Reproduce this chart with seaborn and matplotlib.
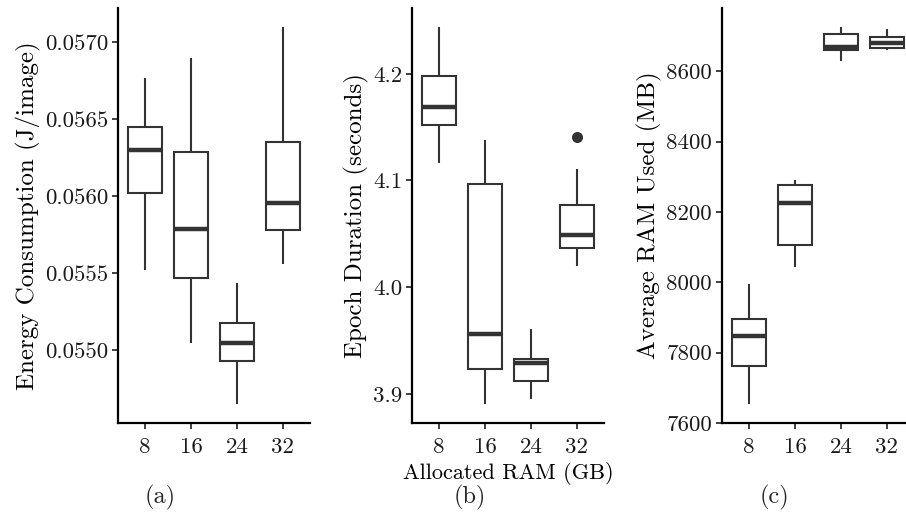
import numpy as np
import pandas as pd
import matplotlib.pyplot as plt
import seaborn as sns
from matplotlib.ticker import MultipleLocator, FormatStrFormatter

# === 1. Values ===
ram_gb = ["8", "16", "24", "32"]

# five-number summaries per RAM size: [lower whisker, Q1, median, Q3, upper whisker]
energy_summary = [
    [0.05552, 0.05602, 0.05630, 0.05645, 0.05677],
    [0.05505, 0.05547, 0.05579, 0.05629, 0.05690],
    [0.05465, 0.05493, 0.05505, 0.05518, 0.05544],
    [0.05556, 0.05578, 0.05596, 0.05635, 0.05710],
]
epoch_summary = [
    [4.116, 4.152, 4.169, 4.198, 4.244],
    [3.890, 3.923, 3.956, 4.097, 4.138],
    [3.895, 3.912, 3.929, 3.933, 3.961],
    [4.020, 4.037, 4.049, 4.077, 4.111],
]
ram_used_summary = [
    [7653, 7763, 7848, 7895, 7994],
    [8044, 8105, 8226, 8278, 8290],
    [8628, 8660, 8668, 8705, 8726],
    [8660, 8666, 8680, 8696, 8721],
]
epoch_outlier_ram = ["32"]
epoch_outlier_value = [4.141]

# === 2. Style ===
sns.set_theme(style="ticks")
plt.rcParams["font.family"] = ["serif"]
plt.rcParams["font.serif"] = ["cmr10", "DejaVu Serif"]
plt.rcParams["mathtext.fontset"] = "cm"
plt.rcParams["axes.formatter.use_mathtext"] = True
FS_TICK = 16.5
FS_YLAB = 18
FS_XLAB = 16
FS_CAP = 17.5
BOX_COLOR = "#333333"


def long_frame(summary):
    rows = [(ram, v) for ram, vals in zip(ram_gb, summary) for v in vals]
    return pd.DataFrame(rows, columns=["ram", "value"])


def draw_box(ax, summary, ylabel, step, fmt, outlier_x=None, outlier_y=None):
    df = long_frame(summary)
    sns.boxplot(data=df, x="ram", y="value", order=ram_gb, ax=ax,
                whis=(0, 100), width=0.75, showcaps=False,
                color="white", linecolor=BOX_COLOR, linewidth=1.5,
                medianprops=dict(linewidth=3.2, color=BOX_COLOR))
    vals = df["value"].tolist()
    if outlier_y is not None:
        sns.stripplot(x=outlier_x, y=outlier_y, order=ram_gb, ax=ax,
                      jitter=False, color=BOX_COLOR, size=8)
        vals = vals + list(outlier_y)
    lo, hi = min(vals), max(vals)
    pad = (hi - lo) * 0.05
    ax.set_ylim(lo - pad, hi + pad)
    ax.set_xlim(-0.6, 3.6)
    ax.yaxis.set_major_locator(MultipleLocator(step))
    ax.yaxis.set_major_formatter(FormatStrFormatter(fmt))
    ax.set_ylabel(ylabel, fontsize=FS_YLAB, color="black", labelpad=3)
    ax.set_xlabel("")
    sns.despine(ax=ax)
    for side in ["left", "bottom"]:
        ax.spines[side].set_linewidth(1.6)
        ax.spines[side].set_color("black")
    ax.tick_params(labelsize=FS_TICK, length=4.5, width=1.3, color=BOX_COLOR,
                   labelcolor="#1a1a1a")
    ax.tick_params(axis="y", pad=2.5)
    ax.tick_params(axis="x", pad=6)


# === 3. Three panels ===
fig = plt.figure(figsize=(9.06, 5.15), dpi=100)
W, H = 906, 515
bottom_px, top_px = 423.3, 8
panel_left = [117.7, 411.7, 721.7]
panel_width = 192.5
axes = [fig.add_axes([l / W, (H - bottom_px) / H, panel_width / W,
                      (bottom_px - top_px) / H]) for l in panel_left]

draw_box(axes[0], energy_summary, "Energy Consumption (J/image)", 0.0005, "%.4f")
draw_box(axes[1], epoch_summary, "Epoch Duration (seconds)", 0.1, "%.1f",
         epoch_outlier_ram, epoch_outlier_value)
draw_box(axes[2], ram_used_summary, "Average RAM Used (MB)", 200, "%d")

axes[1].set_xlabel("Allocated RAM (GB)", fontsize=FS_XLAB, color="black",
                   labelpad=3)

for x, lab in zip([160, 470, 775], ["(a)", "(b)", "(c)"]):
    fig.text(x / W, 1 - 497 / H, lab, ha="center", va="center", fontsize=FS_CAP)

plt.savefig("out.png", dpi=100)
